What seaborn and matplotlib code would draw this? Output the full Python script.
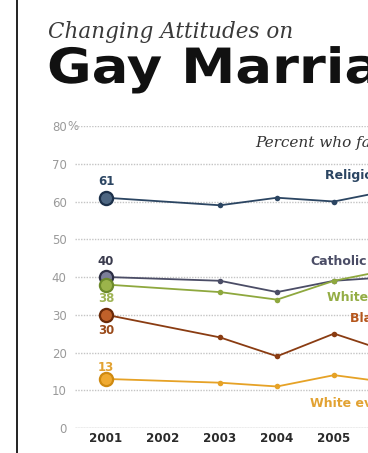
import matplotlib
matplotlib.use("Agg")
import matplotlib.pyplot as plt
from matplotlib.lines import Line2D
from matplotlib.patheffects import AbstractPathEffect
from matplotlib.transforms import Affine2D
import pandas as pd
import seaborn as sns

# ---- data ----
years = [2001, 2003, 2004, 2005, 2006]
groups = ["Religiously unaffiliated", "Catholic", "White mainline",
          "Black Protestant", "White evangelical"]
unaffiliated = [61, 59, 61, 60, 63]
catholic = [40, 39, 36, 39, 40]
mainline = [38, 36, 34, 39, 42]
black_prot = [30, 24, 19, 25, 20]
evangelical = [13, 12, 11, 14, 12]
x_ticks = [2001, 2002, 2003, 2004, 2005]
y_ticks = [0, 10, 20, 30, 40, 50, 60, 70, 80]
y_tick_labels = ["0", "10", "20", "30", "40", "50", "60", "70", "80"]

series = [unaffiliated, catholic, mainline, black_prot, evangelical]
rows = []
for g, vals in zip(groups, series):
    for yr, v in zip(years, vals):
        rows.append({"group": g, "year": yr, "value": v})
df = pd.DataFrame(rows)

line_colors = {"Religiously unaffiliated": "#2b4562", "Catholic": "#4b4d66",
               "White mainline": "#8ea83e", "Black Protestant": "#8a3c12",
               "White evangelical": "#e6a226"}
fill_colors = {"Religiously unaffiliated": "#4d6682", "Catholic": "#7b7e98",
               "White mainline": "#9bb44b", "Black Protestant": "#c0612a",
               "White evangelical": "#f0aa30"}
edge_colors = {"Religiously unaffiliated": "#1c304a", "Catholic": "#2c2e44",
               "White mainline": "#6c8a2a", "Black Protestant": "#6a2a08",
               "White evangelical": "#cf8a10"}
label_colors = {"Religiously unaffiliated": "#2b4562", "Catholic": "#4b4d66",
                "White mainline": "#94ad45", "Black Protestant": "#b5561c",
                "White evangelical": "#e2a232"}
value_colors = {"Religiously unaffiliated": "#2b4562", "Catholic": "#3b3c4e",
                "White mainline": "#9fb455", "Black Protestant": "#9a4a1a",
                "White evangelical": "#e2a232"}


class HStretch(AbstractPathEffect):
    """Widen glyphs horizontally around a fixed display x position."""
    def __init__(self, sx, x0):
        super().__init__()
        self.sx = sx
        self.x0 = x0

    def draw_path(self, renderer, gc, tpath, affine, rgbFace=None):
        extra = Affine2D().translate(-self.x0, 0).scale(self.sx, 1).translate(self.x0, 0)
        renderer.draw_path(gc, tpath, affine + extra, rgbFace)


sns.set_theme(style="white")
plt.rcParams["font.family"] = ["DejaVu Sans"]

fig = plt.figure(figsize=(3.68, 4.53), dpi=100)
ax = fig.add_axes([75 / 368, 1 - 428 / 453, 1 - 75 / 368, (428 - 126) / 453])

sns.lineplot(data=df, x="year", y="value", hue="group", hue_order=groups,
             palette=line_colors, marker="o", markersize=4, markeredgewidth=0,
             linewidth=1.3, legend=False, ax=ax, zorder=3)

first = df[df["year"] == years[0]]
for g in groups:
    sub = first[first["group"] == g]
    sns.scatterplot(data=sub, x="year", y="value", color=fill_colors[g],
                    edgecolor=edge_colors[g], linewidth=1.6, s=90,
                    legend=False, ax=ax, zorder=5)

ax.set_xlim(2000.456, 2005.596)
ax.set_ylim(0, 80)
ax.set_xticks(x_ticks)
ax.set_xticklabels([str(t) for t in x_ticks], fontweight="bold",
                   fontsize=8.6, color="#2a2a2a")
ax.set_yticks(y_ticks)
ax.set_yticklabels(y_tick_labels, fontsize=8.5, color="#9a9a9a")
ax.tick_params(axis="both", length=0)
ax.tick_params(axis="y", pad=6)
ax.tick_params(axis="x", pad=3)
ax.set_xlabel("")
ax.set_ylabel("")
for s in ax.spines.values():
    s.set_visible(False)
ax.grid(axis="y", linestyle=(0, (1, 1)), color="#c4c4c4", linewidth=1)
ax.grid(axis="x", visible=False)
ax.axhline(0, color="#d0d0d0", linewidth=1, zorder=1)
ax.annotate("%", xy=(0, 80), xycoords=("axes fraction", "data"),
            xytext=(-5.5, 0), textcoords="offset points", ha="left", va="center",
            fontsize=8.5, color="#9a9a9a")

# value labels at first point
val_pos = {"Religiously unaffiliated": 65.4, "Catholic": 44.2,
           "White mainline": 34.2, "Black Protestant": 25.8,
           "White evangelical": 16.0}
for g, vals in zip(groups, series):
    ax.text(years[0], val_pos[g], str(vals[0]), ha="center", va="center",
            fontsize=8.5, fontweight="bold", color=value_colors[g], zorder=6)

# series labels
lab_pos = {"Religiously unaffiliated": (2004.84, 67.0), "Catholic": (2004.58, 44.0),
           "White mainline": (2004.88, 34.7), "Black Protestant": (2005.28, 29.1),
           "White evangelical": (2004.58, 6.6)}
for g in groups:
    x0, y0 = lab_pos[g]
    ax.text(x0, y0, g, ha="left", va="center", fontsize=9, fontweight="bold",
            color=label_colors[g], zorder=6, clip_on=False)

ax.text(2003.61, 75.5, "Percent who favor allowing gays and lesbians to marry legally",
        family="DejaVu Serif", style="italic", fontsize=11, color="#333333",
        ha="left", va="center")

# titles
fig.text(48 / 368, 1 - 38 / 453, "Changing Attitudes on", family="DejaVu Serif",
         style="italic", fontsize=15.5, color="#3a3a3a", ha="left", va="baseline")
fig.text(47 / 368, 1 - 83 / 453, "Gay Marriage", fontsize=35, fontweight="bold",
         color="#111111", ha="left", va="baseline",
         path_effects=[HStretch(1.12, 47)])

fig.add_artist(Line2D([16.5 / 368, 16.5 / 368], [0, 1], color="#222222",
                      linewidth=1.4, transform=fig.transFigure))

fig.savefig("out.png", dpi=100)
